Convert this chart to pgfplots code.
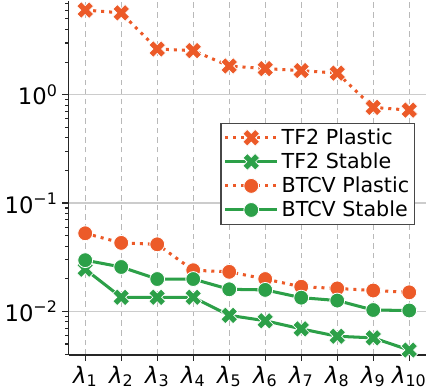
\documentclass[border=0pt]{standalone}
\usepackage{fontspec}
\setmainfont{DejaVu Sans}
\usepackage{pgfplots}
\pgfplotsset{compat=1.18}
\definecolor{myorange}{RGB}{236,90,40}
\definecolor{mygreen}{RGB}{44,160,72}
\definecolor{spine}{RGB}{38,38,38}
\pgfdeclareplotmark{Xf}{%
  \pgftransformrotate{45}%
  \pgfpathmoveto{\pgfqpoint{-.36\pgfplotmarksize}{\pgfplotmarksize}}%
  \pgfpathlineto{\pgfqpoint{.36\pgfplotmarksize}{\pgfplotmarksize}}%
  \pgfpathlineto{\pgfqpoint{.36\pgfplotmarksize}{.36\pgfplotmarksize}}%
  \pgfpathlineto{\pgfqpoint{\pgfplotmarksize}{.36\pgfplotmarksize}}%
  \pgfpathlineto{\pgfqpoint{\pgfplotmarksize}{-.36\pgfplotmarksize}}%
  \pgfpathlineto{\pgfqpoint{.36\pgfplotmarksize}{-.36\pgfplotmarksize}}%
  \pgfpathlineto{\pgfqpoint{.36\pgfplotmarksize}{-\pgfplotmarksize}}%
  \pgfpathlineto{\pgfqpoint{-.36\pgfplotmarksize}{-\pgfplotmarksize}}%
  \pgfpathlineto{\pgfqpoint{-.36\pgfplotmarksize}{-.36\pgfplotmarksize}}%
  \pgfpathlineto{\pgfqpoint{-\pgfplotmarksize}{-.36\pgfplotmarksize}}%
  \pgfpathlineto{\pgfqpoint{-\pgfplotmarksize}{.36\pgfplotmarksize}}%
  \pgfpathlineto{\pgfqpoint{-.36\pgfplotmarksize}{.36\pgfplotmarksize}}%
  \pgfpathclose
  \pgfusepathqfillstroke}
\begin{document}
\begin{tikzpicture}
\begin{axis}[
  scale only axis, width=259.5pt, height=257.25pt,
  ymode=log, xmin=0.54, xmax=10.46, ymin=0.00398, ymax=7.36,
  axis x line*=bottom, axis y line*=left,
  axis line style={-, spine, line width=1.1pt},
  xtick={1,...,10},
  xticklabels={\textit{λ}\textsubscript{1},\textit{λ}\textsubscript{2},\textit{λ}\textsubscript{3},\textit{λ}\textsubscript{4},\textit{λ}\textsubscript{5},\textit{λ}\textsubscript{6},\textit{λ}\textsubscript{7},\textit{λ}\textsubscript{8},\textit{λ}\textsubscript{9},\textit{λ}\textsubscript{10}},
  ytick={0.01,0.1,1},
  yticklabels={10\textsuperscript{−2},10\textsuperscript{−1},10\textsuperscript{0}},
  minor ytick={0.004,0.005,0.006,0.007,0.008,0.009,0.02,0.03,0.04,0.05,0.06,0.07,0.08,0.09,0.2,0.3,0.4,0.5,0.6,0.7,0.8,0.9,2,3,4,5,6,7},
  tick align=outside, major tick length=4.5pt, minor tick length=2.6pt,
  tick style={spine, line width=1pt}, minor tick style={spine, line width=0.8pt},
  xmajorgrids, ymajorgrids,
  x grid style={gray!55, dash pattern=on 4pt off 3pt, line width=1pt},
  y grid style={gray!40, line width=1.1pt},
  ticklabel style={font=\fontsize{16.5}{18}\selectfont},
  legend cell align=left,
  legend style={at={(0.971,0.656)}, anchor=north east, draw=spine!85, line width=1.2pt,
    fill=white, font=\fontsize{15}{17}\selectfont,
    row sep=0.6pt, inner xsep=2pt, inner ysep=2pt},
  legend image code/.code={\draw[mark repeat=2,mark phase=2,#1] plot coordinates {(0pt,0pt) (19pt,0pt) (38pt,0pt)};},
]
\addplot[myorange, line width=2.2pt, dash pattern=on 2.2pt off 3.6pt, mark=Xf, mark size=6.3pt, mark options={solid, fill=myorange, draw=white, line width=0.5pt}]
  coordinates {(1,6.04) (2,5.69) (3,2.64) (4,2.55) (5,1.84) (6,1.74) (7,1.67) (8,1.58) (9,0.764) (10,0.72)};
\addlegendentry{TF2 Plastic}
\addplot[mygreen, line width=2.2pt, mark=Xf, mark size=6.3pt, mark options={solid, fill=mygreen, draw=white, line width=0.5pt}]
  coordinates {(1,0.0245) (2,0.0135) (3,0.0135) (4,0.0135) (5,0.0092) (6,0.0082) (7,0.0069) (8,0.0059) (9,0.0057) (10,0.0044)};
\addlegendentry{TF2 Stable}
\addplot[myorange, line width=2.2pt, dash pattern=on 2.2pt off 3.6pt, mark=*, mark size=5.4pt, mark options={solid, fill=myorange, draw=white, line width=0.6pt}]
  coordinates {(1,0.0526) (2,0.0429) (3,0.0416) (4,0.024) (5,0.0232) (6,0.0199) (7,0.0169) (8,0.0163) (9,0.0156) (10,0.015)};
\addlegendentry{BTCV Plastic}
\addplot[mygreen, line width=2.2pt, mark=*, mark size=5.4pt, mark options={solid, fill=mygreen, draw=white, line width=0.6pt}]
  coordinates {(1,0.0297) (2,0.0257) (3,0.0199) (4,0.0199) (5,0.016) (6,0.0158) (7,0.0134) (8,0.0126) (9,0.0103) (10,0.0102)};
\addlegendentry{BTCV Stable}
\end{axis}
\end{tikzpicture}
\end{document}
